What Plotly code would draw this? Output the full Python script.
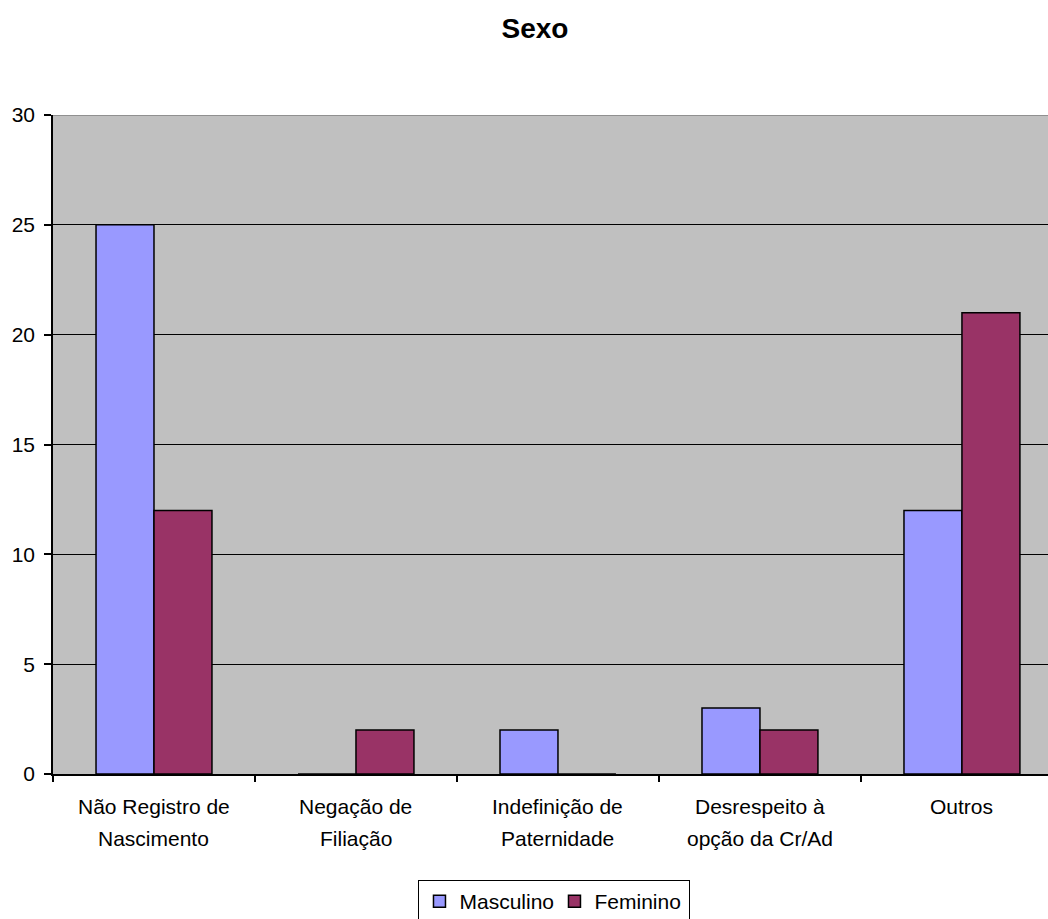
import plotly.graph_objects as go

categorias = ["Não Registro de\nNascimento", "Negação de\nFiliação", "Indefinição de\nPaternidade",
              "Desrespeito à\nopção da Cr/Ad", "Outros"]
masculino = [25, 0, 2, 3, 12]
feminino = [12, 2, 0, 2, 21]
y_ticks = [0, 5, 10, 15, 20, 25, 30]

FONT = "Liberation Sans, Arial, sans-serif"
LABEL_SIZE = 21

fig = go.Figure()
fig.add_trace(go.Bar(name="Masculino", x=categorias, y=masculino,
                     marker=dict(color="#9999FF", line=dict(color="black", width=1.5))))
fig.add_trace(go.Bar(name="Feminino", x=categorias, y=feminino,
                     marker=dict(color="#993366", line=dict(color="black", width=1.5))))

# gray line along the top of the plot area
fig.add_shape(type="line", xref="paper", yref="y", x0=0, x1=1, y0=30, y1=30,
              line=dict(color="#808080", width=1.5), layer="above")

# two-line category labels under each group, with wide line spacing
for cat in categorias:
    for i, linha in enumerate(cat.split("\n")):
        fig.add_annotation(x=cat, y=0, xref="x", yref="y", text=linha, showarrow=False,
                           xanchor="center", yanchor="middle", yshift=-(32 + 32 * i),
                           font=dict(family=FONT, size=LABEL_SIZE, color="black"))

fig.update_layout(
    width=1048, height=919,
    margin=dict(l=53, r=0, t=115, b=145),
    paper_bgcolor="white", plot_bgcolor="#C0C0C0",
    barmode="group", bargap=0.426, bargroupgap=0,
    font=dict(family=FONT, size=LABEL_SIZE, color="black"),
    title=dict(text="<b>Sexo</b>", xref="container", x=0.5105, xanchor="center",
               yref="container", y=0.9695, yanchor="middle",
               font=dict(family=FONT, size=28, color="black")),
    showlegend=True,
    legend=dict(orientation="h", x=0.504, xanchor="center",
                yref="container", y=0.0424, yanchor="top",
                bordercolor="black", borderwidth=1, bgcolor="white",
                font=dict(family=FONT, size=LABEL_SIZE), itemwidth=30, tracegroupgap=0,
                entrywidth=90, entrywidthmode="pixels"),
    xaxis=dict(range=[-0.5, 4.426], showline=True, linecolor="black", linewidth=1.5,
               ticks="outside", tickson="boundaries", ticklen=6, tickcolor="black",
               tickwidth=1.5, showgrid=False, showticklabels=False, automargin=False),
    yaxis=dict(range=[0, 30], tickvals=y_ticks, showline=True, linecolor="black", linewidth=1.5,
               ticks="outside", ticklen=7, tickcolor="black", tickwidth=1.5,
               showgrid=True, gridcolor="black", gridwidth=1.2, zeroline=False,
               ticklabelstandoff=5, tickfont=dict(size=LABEL_SIZE), automargin=False),
)

fig.write_html("out.html")
